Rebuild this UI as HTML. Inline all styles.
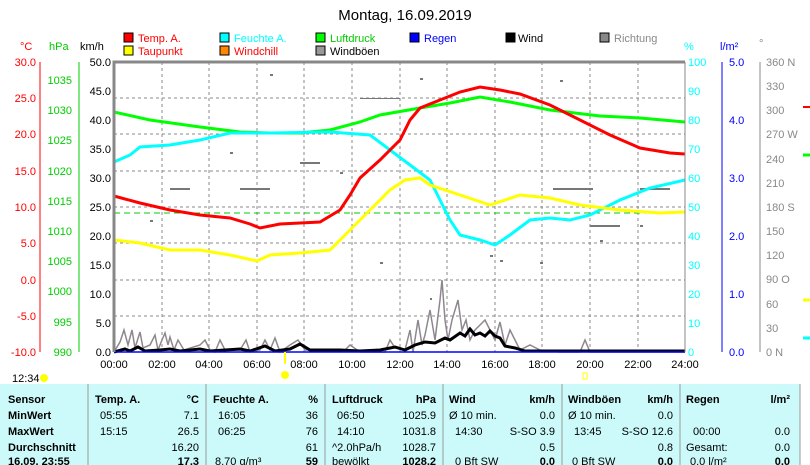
<!DOCTYPE html>
<html><head><meta charset="utf-8"><style>
body{margin:0;background:#fff;width:810px;height:465px;overflow:hidden;font-family:"Liberation Sans",sans-serif}
svg{position:absolute;left:0;top:0}
text{font-family:"Liberation Sans",sans-serif;font-size:11px}
</style></head><body>
<svg width="810" height="465" viewBox="0 0 810 465">
<text x="405" y="20" text-anchor="middle" font-size="15" style="font-size:15px">Montag, 16.09.2019</text>
<!-- legend -->
<g font-size="11">
<rect x="124" y="33" width="9" height="9" fill="#f00" stroke="#000"/><text x="138" y="42" fill="#f00">Temp. A.</text>
<rect x="124" y="46" width="9" height="9" fill="#ff0" stroke="#000"/><text x="138" y="55" fill="#f00">Taupunkt</text>
<rect x="220" y="33" width="9" height="9" fill="#0ff" stroke="#000"/><text x="234" y="42" fill="#0ff">Feuchte A.</text>
<rect x="220" y="46" width="9" height="9" fill="#f80" stroke="#000"/><text x="234" y="55" fill="#f00">Windchill</text>
<rect x="316" y="33" width="9" height="9" fill="#0f0" stroke="#000"/><text x="330" y="42" fill="#0c0">Luftdruck</text>
<rect x="316" y="46" width="9" height="9" fill="#999" stroke="#000"/><text x="330" y="55">Windböen</text>
<rect x="410" y="33" width="9" height="9" fill="#00f" stroke="#000"/><text x="424" y="42" fill="#00f">Regen</text>
<rect x="506" y="33" width="9" height="9" fill="#000" stroke="#000"/><text x="518" y="42">Wind</text>
<rect x="600" y="33" width="9" height="9" fill="#888" stroke="#000"/><text x="614" y="42" fill="#888">Richtung</text>
</g>
<text x="20" y="50" fill="#f00">°C</text><text x="49" y="50" fill="#0c0">hPa</text><text x="80" y="50">km/h</text>
<text x="684" y="50" fill="#0ff">%</text><text x="720" y="50" fill="#00f">l/m²</text><text x="759" y="47" fill="#888">°</text>
<!-- grid -->
<g stroke="#888" stroke-dasharray="3,3" stroke-width="1">
<line x1="114" y1="98" x2="685" y2="98"/><line x1="114" y1="134" x2="685" y2="134"/><line x1="114" y1="171" x2="685" y2="171"/><line x1="114" y1="207" x2="685" y2="207"/><line x1="114" y1="243" x2="685" y2="243"/><line x1="114" y1="280" x2="685" y2="280"/><line x1="114" y1="316" x2="685" y2="316"/>
<line x1="162" y1="62" x2="162" y2="352"/><line x1="209" y1="62" x2="209" y2="352"/><line x1="257" y1="62" x2="257" y2="352"/><line x1="304" y1="62" x2="304" y2="352"/><line x1="352" y1="62" x2="352" y2="352"/><line x1="400" y1="62" x2="400" y2="352"/><line x1="447" y1="62" x2="447" y2="352"/><line x1="495" y1="62" x2="495" y2="352"/><line x1="542" y1="62" x2="542" y2="352"/><line x1="590" y1="62" x2="590" y2="352"/><line x1="638" y1="62" x2="638" y2="352"/>
</g>
<line x1="114" y1="213" x2="685" y2="213" stroke="#0c0" stroke-dasharray="6,4"/>
<!-- direction dots -->
<g fill="#777">
<rect x="553" y="188" width="40" height="2"/><rect x="590" y="225" width="30" height="2"/><rect x="640" y="188" width="30" height="2"/><rect x="240" y="188" width="30" height="2"/><rect x="170" y="188" width="20" height="2"/><rect x="300" y="162" width="20" height="2"/><rect x="360" y="98" width="40" height="1"/><rect x="270" y="74" width="3" height="2"/><rect x="420" y="78" width="3" height="2"/><rect x="560" y="80" width="3" height="2"/><rect x="230" y="152" width="3" height="2"/><rect x="340" y="172" width="3" height="2"/><rect x="500" y="260" width="3" height="2"/><rect x="540" y="262" width="3" height="2"/><rect x="380" y="262" width="3" height="2"/><rect x="600" y="240" width="3" height="2"/><rect x="430" y="298" width="2" height="2"/><rect x="150" y="220" width="3" height="2"/><rect x="640" y="225" width="3" height="2"/><rect x="490" y="255" width="3" height="2"/>
</g>
<!-- gusts -->
<polyline fill="none" stroke="#8f878f" stroke-width="1.5" points="114,352 120,342 124,330 128,345 132,330 135,348 140,332 143,348 150,345 155,335 158,350 162,340 165,333 168,345 170,337 174,350 178,340 184,350 200,345 205,340 210,350 215,352 220,340 225,350 240,350 246,340 250,352 260,350 265,340 270,350 275,338 280,352 290,345 298,340 305,350 320,350 345,350 350,345 360,352 385,352 390,340 395,348 405,350 410,330 413,352 418,320 422,345 425,335 430,310 435,340 440,300 442,280 445,320 448,340 452,320 458,300 462,330 466,320 470,340 475,330 480,325 485,320 490,330 495,340 500,322 505,345 510,330 515,340 520,350 530,345 540,350 560,352 580,352 585,340 590,352 685,352"/>
<!-- wind -->
<polyline fill="none" stroke="#000" stroke-width="3" points="114,352 125,349 130,351 138,347 145,351 160,350 170,349 180,351 200,349 210,351 240,349 250,351 265,346 275,351 290,349 300,344 310,350 320,350 340,350 360,351 380,350 395,347 405,350 415,345 425,342 435,343 445,338 450,340 460,333 465,336 470,329 475,335 480,333 485,336 490,331 495,336 500,338 505,346 515,348 525,351 545,351 685,351"/>
<line x1="114" y1="352" x2="685" y2="352" stroke="#00f" stroke-width="1.5"/>
<!-- series -->
<polyline fill="none" stroke="#0f0" stroke-width="3" points="114,112 150,120 200,127 240,132 270,133 300,133 330,130 360,122 380,115 420,108 450,103 480,97 510,102 550,110 600,116 640,118 685,122"/>
<polyline fill="none" stroke="#0ff" stroke-width="3" points="114,162 130,155 140,147 170,145 200,140 230,133 270,133 330,132 370,135 390,150 410,165 430,180 440,200 450,220 460,235 480,240 495,245 510,235 530,220 550,218 570,220 590,215 620,200 650,188 685,180"/>
<polyline fill="none" stroke="#ff0" stroke-width="3" points="114,240 140,243 170,250 200,250 230,255 257,261 270,255 300,253 330,250 350,230 370,210 390,190 405,180 420,178 430,185 460,195 490,205 520,195 550,198 580,205 620,210 660,213 685,212"/>
<polyline fill="none" stroke="#f00" stroke-width="3" points="114,196 140,203 170,210 200,215 230,218 250,224 260,228 280,224 320,222 340,210 350,195 360,178 380,160 400,140 410,120 420,108 440,100 460,92 480,87 500,90 520,94 550,105 580,120 610,135 640,148 670,153 685,154"/>
<!-- frame -->
<polyline fill="none" stroke="#888" stroke-width="3" points="114,352 114,62 685,62"/>
<line x1="685" y1="62" x2="685" y2="352" stroke="#888"/>
<!-- left axes -->
<g font-size="11" text-anchor="end">
<g fill="#f00"><text x="36" y="66">30.0</text><text x="36" y="102">25.0</text><text x="36" y="138">20.0</text><text x="36" y="175">15.0</text><text x="36" y="211">10.0</text><text x="36" y="247">5.0</text><text x="36" y="284">0.0</text><text x="36" y="320">-5.0</text><text x="36" y="356">-10.0</text></g>
<g fill="#0c0"><text x="72" y="84">1035</text><text x="72" y="114">1030</text><text x="72" y="144">1025</text><text x="72" y="175">1020</text><text x="72" y="205">1015</text><text x="72" y="235">1010</text><text x="72" y="265">1005</text><text x="72" y="295">1000</text><text x="72" y="326">995</text><text x="72" y="356">990</text></g>
<g fill="#000"><text x="111" y="66">50.0</text><text x="111" y="95">45.0</text><text x="111" y="124">40.0</text><text x="111" y="153">35.0</text><text x="111" y="182">30.0</text><text x="111" y="211">25.0</text><text x="111" y="240">20.0</text><text x="111" y="269">15.0</text><text x="111" y="298">10.0</text><text x="111" y="327">5.0</text><text x="111" y="356">0.0</text></g>
</g>
<line x1="79" y1="62" x2="79" y2="352" stroke="#0c0"/>
<line x1="40" y1="62" x2="40" y2="352" stroke="#f00"/>
<!-- right axes -->
<g font-size="11">
<g fill="#0ff"><text x="688" y="66">100</text><text x="688" y="95">90</text><text x="688" y="124">80</text><text x="688" y="153">70</text><text x="688" y="182">60</text><text x="688" y="211">50</text><text x="688" y="240">40</text><text x="688" y="269">30</text><text x="688" y="298">20</text><text x="688" y="327">10</text><text x="688" y="356">0</text></g>
<g fill="#00f"><text x="729" y="66">5.0</text><text x="729" y="124">4.0</text><text x="729" y="182">3.0</text><text x="729" y="240">2.0</text><text x="729" y="298">1.0</text><text x="729" y="356">0.0</text></g>
<g fill="#888"><text x="766" y="66">360 N</text><text x="766" y="90">330</text><text x="766" y="114">300</text><text x="766" y="138">270 W</text><text x="766" y="163">240</text><text x="766" y="187">210</text><text x="766" y="211">180 S</text><text x="766" y="235">150</text><text x="766" y="259">120</text><text x="766" y="283">90 O</text><text x="766" y="308">60</text><text x="766" y="332">30</text><text x="766" y="356">0 N</text></g>
</g>
<line x1="722" y1="62" x2="722" y2="352" stroke="#00f"/>
<line x1="760" y1="62" x2="760" y2="352" stroke="#888"/>
<!-- far right fragments -->
<line x1="803" y1="107" x2="810" y2="107" stroke="#f00" stroke-width="2"/><line x1="803" y1="155" x2="810" y2="155" stroke="#0f0" stroke-width="3"/><line x1="803" y1="300" x2="810" y2="300" stroke="#ff0" stroke-width="3"/><line x1="803" y1="338" x2="810" y2="338" stroke="#0ff" stroke-width="3"/>
<!-- x labels -->
<g font-size="11" text-anchor="middle">
<text x="114" y="368">00:00</text><text x="162" y="368">02:00</text><text x="209" y="368">04:00</text><text x="257" y="368">06:00</text><text x="304" y="368">08:00</text><text x="352" y="368">10:00</text><text x="400" y="368">12:00</text><text x="447" y="368">14:00</text><text x="495" y="368">16:00</text><text x="542" y="368">18:00</text><text x="590" y="368">20:00</text><text x="638" y="368">22:00</text><text x="685" y="368">24:00</text>
</g>
<text x="12" y="382" font-size="11">12:34</text>
<circle cx="44" cy="378" r="4" fill="#ff0"/>
<circle cx="285" cy="375" r="4" fill="#ff0"/>
<line x1="285" y1="352" x2="285" y2="364" stroke="#ff0" stroke-width="2"/>
<rect x="583" y="373" width="4" height="6" fill="none" stroke="#ff0"/>
<!-- table -->
<rect x="0" y="384" width="800" height="81" fill="#ccfafa"/>
<g stroke="#999"><line x1="88" y1="384" x2="88" y2="465"/><line x1="206" y1="384" x2="206" y2="465"/><line x1="325" y1="384" x2="325" y2="465"/><line x1="443" y1="384" x2="443" y2="465"/><line x1="562" y1="384" x2="562" y2="465"/><line x1="680" y1="384" x2="680" y2="465"/><line x1="800" y1="384" x2="800" y2="465"/></g>
<g font-size="11" font-weight="bold">
<text x="8" y="403">Sensor</text><text x="8" y="419">MinWert</text><text x="8" y="435">MaxWert</text><text x="8" y="451">Durchschnitt</text><text x="8" y="465">16.09. 23:55</text>
<text x="95" y="403">Temp. A.</text><text x="199" y="403" text-anchor="end">°C</text>
<text x="213" y="403">Feuchte A.</text><text x="318" y="403" text-anchor="end">%</text>
<text x="332" y="403">Luftdruck</text><text x="436" y="403" text-anchor="end">hPa</text>
<text x="449" y="403">Wind</text><text x="555" y="403" text-anchor="end">km/h</text>
<text x="568" y="403">Windböen</text><text x="673" y="403" text-anchor="end">km/h</text>
<text x="686" y="403">Regen</text><text x="790" y="403" text-anchor="end">l/m²</text>
<text x="199" y="465" text-anchor="end">17.3</text><text x="318" y="465" text-anchor="end">59</text><text x="436" y="465" text-anchor="end">1028.2</text><text x="555" y="465" text-anchor="end">0.0</text><text x="673" y="465" text-anchor="end">0.0</text><text x="790" y="465" text-anchor="end">0.0</text>
</g>
<g font-size="11">
<text x="100" y="419">05:55</text><text x="199" y="419" text-anchor="end">7.1</text>
<text x="100" y="435">15:15</text><text x="199" y="435" text-anchor="end">26.5</text>
<text x="199" y="451" text-anchor="end">16.20</text>
<text x="218" y="419">16:05</text><text x="318" y="419" text-anchor="end">36</text>
<text x="218" y="435">06:25</text><text x="318" y="435" text-anchor="end">76</text>
<text x="318" y="451" text-anchor="end">61</text><text x="215" y="465">8.70 g/m³</text>
<text x="337" y="419">06:50</text><text x="436" y="419" text-anchor="end">1025.9</text>
<text x="337" y="435">14:10</text><text x="436" y="435" text-anchor="end">1031.8</text>
<text x="332" y="451">^2.0hPa/h</text><text x="436" y="451" text-anchor="end">1028.7</text><text x="332" y="465">bewölkt</text>
<text x="449" y="419">Ø 10 min.</text><text x="555" y="419" text-anchor="end">0.0</text>
<text x="455" y="435">14:30</text><text x="555" y="435" text-anchor="end">S-SO 3.9</text>
<text x="555" y="451" text-anchor="end">0.5</text><text x="455" y="465">0 Bft SW</text>
<text x="568" y="419">Ø 10 min.</text><text x="673" y="419" text-anchor="end">0.0</text>
<text x="574" y="435">13:45</text><text x="673" y="435" text-anchor="end">S-SO 12.6</text>
<text x="673" y="451" text-anchor="end">0.8</text><text x="572" y="465">0 Bft SW</text>
<text x="693" y="435">00:00</text><text x="790" y="435" text-anchor="end">0.0</text>
<text x="686" y="451">Gesamt:</text><text x="790" y="451" text-anchor="end">0.0</text><text x="690" y="465">0.0 l/m²</text>
</g>
</svg>
</body></html>
